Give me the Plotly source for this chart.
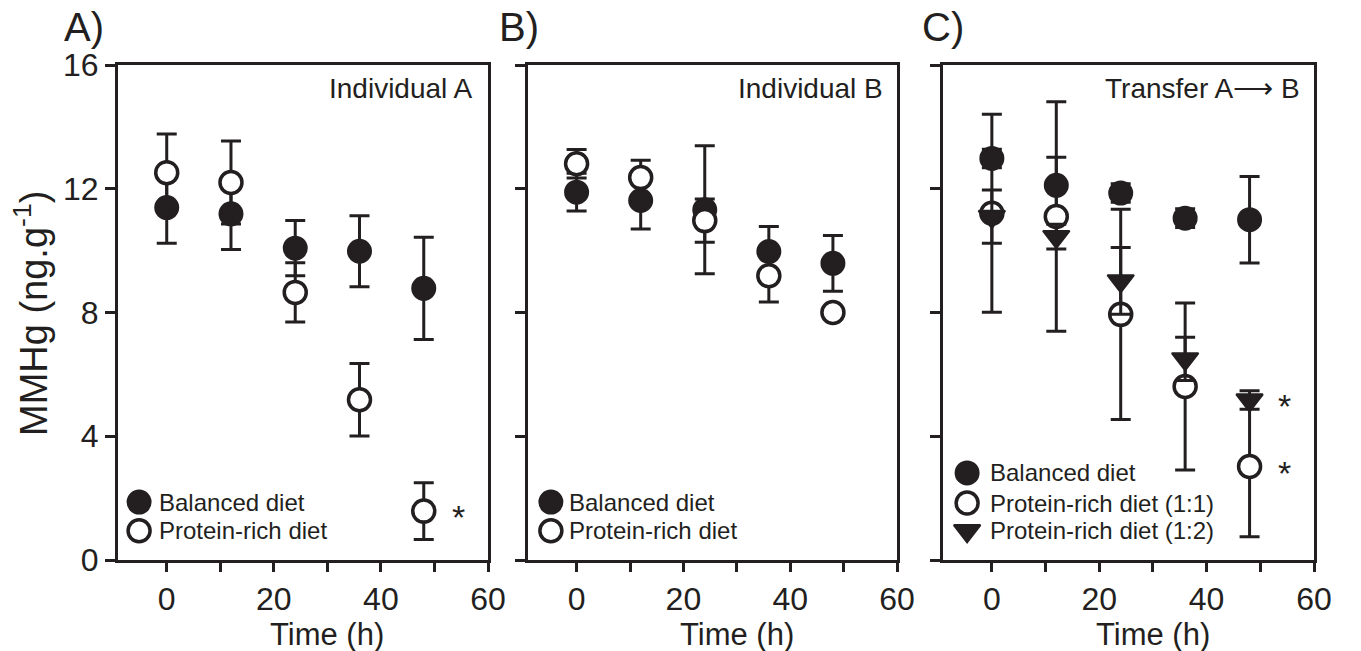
import plotly.graph_objects as go

# ---- data -------------------------------------------------------------
time_h = [0, 12, 24, 36, 48]

# A) Individual A
a_balanced = [11.39, 11.19, 10.08, 9.98, 8.78]
a_balanced_sd = [1.15, 1.15, 0.89, 1.15, 1.65]
a_protein = [12.52, 12.20, 8.65, 5.18, 1.58]
a_protein_sd = [1.25, 1.34, 0.96, 1.17, 0.92]

# B) Individual B
b_balanced = [11.89, 11.62, 11.32, 9.97, 9.59]
b_balanced_sd = [0.61, 0.92, 2.07, 0.81, 0.90]
b_protein = [12.81, 12.36, 10.97, 9.19, 8.00]
b_protein_sd = [0.46, 0.56, 0.70, 0.85, 0.12]

# C) Transfer A -> B
c_balanced = [12.98, 12.11, 11.86, 11.05, 11.00]
c_balanced_sd = [0.30, 0.91, 0.30, 0.30, 1.40]
c_protein_11 = [11.21, 11.10, 7.94, 5.61, 3.02]
c_protein_11_sd = [3.20, 3.71, 3.40, 2.70, 2.27]
c_protein_12 = [11.10, 10.45, 9.02, 6.50, 5.17]
c_protein_12_sd = [0.86, 0.40, 1.08, 0.70, 0.30]

x_tick_vals = [0, 20, 40, 60]
x_tick_text = ["0", "20", "40", "60"]
x_minor_vals = [10, 30, 50]
y_tick_vals = [0, 4, 8, 12, 16]
y_tick_text = ["0", "4", "8", "12", "16"]

panel_letters = ["A)", "B)", "C)"]
panel_titles = ["Individual A", "Individual B", "Transfer A\u27f6 B"]
legend_a = ["Balanced diet", "Protein-rich diet"]
legend_b = ["Balanced diet", "Protein-rich diet"]
legend_c = ["Balanced diet", "Protein-rich diet (1:1)", "Protein-rich diet (1:2)"]
x_title = "Time (h)"
y_title = "MMHg (ng.g<sup>-1</sup>)"

# ---- style ------------------------------------------------------------
INK = "#231f20"
FONT = "Liberation Sans, Arial, sans-serif"
X_RANGE = [-9.1, 60]
Y_RANGE = [0, 16]
MSIZE = 22

FILLED = dict(symbol="circle", size=MSIZE, color=INK, line=dict(color=INK, width=3))
OPEN = dict(symbol="circle", size=MSIZE, color="white", line=dict(color=INK, width=3.5))
TRI = dict(symbol="triangle-down", size=MSIZE + 1, color=INK, line=dict(color=INK, width=2))


def err(sd):
    return dict(type="data", array=sd, visible=True, color=INK, thickness=3, width=10)


def frac_x(f):
    return X_RANGE[0] + f * (X_RANGE[1] - X_RANGE[0])


def frac_y(f):
    return Y_RANGE[0] + f * (Y_RANGE[1] - Y_RANGE[0])


fig = go.Figure()

panels = [
    ("x", "y", [(a_balanced, a_balanced_sd, FILLED, legend_a[0]),
                (a_protein, a_protein_sd, OPEN, legend_a[1])]),
    ("x2", "y2", [(b_balanced, b_balanced_sd, FILLED, legend_b[0]),
                  (b_protein, b_protein_sd, OPEN, legend_b[1])]),
    ("x3", "y3", [(c_balanced, c_balanced_sd, FILLED, legend_c[0]),
                  (c_protein_11, c_protein_11_sd, OPEN, legend_c[1]),
                  (c_protein_12, c_protein_12_sd, TRI, legend_c[2])]),
]

for xa, ya, series in panels:
    for vals, sd, mk, name in series:
        fig.add_trace(go.Scatter(
            x=time_h, y=vals, mode="markers", name=name, marker=mk,
            error_y=err(sd), xaxis=xa, yaxis=ya, showlegend=False,
            cliponaxis=False,
        ))

annotations = []

# in-panel keys
key_layout = {
    "x": dict(kx=0.057, tx=0.105, rows=[0.117, 0.059]),
    "x2": dict(kx=0.062, tx=0.106, rows=[0.117, 0.059]),
    "x3": dict(kx=0.065, tx=0.121, rows=[0.176, 0.115, 0.059]),
}
for xa, ya, series in panels:
    kl = key_layout[xa]
    for (vals, sd, mk, name), ry in zip(series, kl["rows"]):
        fig.add_trace(go.Scatter(
            x=[frac_x(kl["kx"])], y=[frac_y(ry)], mode="markers", marker=mk,
            xaxis=xa, yaxis=ya, showlegend=False, hoverinfo="skip",
        ))
        annotations.append(dict(
            x=frac_x(kl["tx"]), y=frac_y(ry), xref=xa, yref=ya, text=name,
            showarrow=False, xanchor="left", yanchor="middle",
            font=dict(family=FONT, size=24, color=INK),
        ))

# significance marks
for xa, ya, vals in [("x", "y", a_protein), ("x3", "y3", c_protein_12), ("x3", "y3", c_protein_11)]:
    annotations.append(dict(
        x=54.5, y=vals[-1], xref=xa, yref=ya, text="*", showarrow=False,
        xanchor="center", yanchor="middle", yshift=-6,
        font=dict(family=FONT, size=34, color=INK),
    ))

domains = [(118 / 1361, 488 / 1361), (528 / 1361, 897 / 1361), (943 / 1361, 1314 / 1361)]
letter_x = [62 / 1361, 497 / 1361, 920 / 1361]
title_fx = [0.965, 0.967, 0.968]
axis_ids = [("x", "y"), ("x2", "y2"), ("x3", "y3")]

for i, (xa, ya) in enumerate(axis_ids):
    annotations.append(dict(
        x=title_fx[i], y=0.952, xref=f"{xa} domain", yref=f"{ya} domain",
        text=panel_titles[i], showarrow=False, xanchor="right", yanchor="middle",
        font=dict(family=FONT, size=28, color=INK),
    ))
    annotations.append(dict(
        x=letter_x[i], y=1 - 27 / 651, xref="paper", yref="paper",
        text=panel_letters[i], showarrow=False, xanchor="left", yanchor="middle",
        font=dict(family=FONT, size=40, color=INK),
    ))
    annotations.append(dict(
        x=30, y=1 - 634 / 651, xref=xa, yref="paper", text=x_title,
        showarrow=False, xanchor="center", yanchor="middle",
        font=dict(family=FONT, size=31, color=INK),
    ))

annotations.append(dict(
    x=31 / 1361, y=1 - 314 / 651, xref="paper", yref="paper", text=y_title,
    textangle=-90, showarrow=False, xanchor="center", yanchor="middle",
    font=dict(family=FONT, size=38, color=INK),
))

layout = dict(
    width=1361, height=651,
    margin=dict(l=0, r=0, t=0, b=0, pad=0, autoexpand=False),
    paper_bgcolor="white", plot_bgcolor="white",
    font=dict(family=FONT, color=INK),
    annotations=annotations,
    showlegend=False,
)

y_dom = [1 - 560 / 651, 1 - 65 / 651]
for i, (xa, ya) in enumerate(axis_ids):
    xkey = "xaxis" if i == 0 else f"xaxis{i + 1}"
    ykey = "yaxis" if i == 0 else f"yaxis{i + 1}"
    layout[xkey] = dict(
        domain=domains[i], anchor=ya, range=X_RANGE, automargin=False,
        tickmode="array", tickvals=x_tick_vals, ticktext=x_tick_text,
        ticks="outside", ticklen=9, tickwidth=3, tickcolor=INK,
        minor=dict(tickmode="array", tickvals=x_minor_vals, ticks="outside",
                   ticklen=9, tickwidth=3, tickcolor=INK, showgrid=False),
        showline=True, linewidth=3, linecolor=INK, mirror=True,
        showgrid=False, zeroline=False,
        tickfont=dict(family=FONT, size=32, color=INK),
    )
    layout[ykey] = dict(
        domain=y_dom, anchor=xa, range=Y_RANGE, automargin=False,
        tickmode="array", tickvals=y_tick_vals, ticktext=y_tick_text,
        showticklabels=(i == 0),
        ticks="outside", ticklen=10, tickwidth=3, tickcolor=INK,
        showline=True, linewidth=3, linecolor=INK, mirror=True,
        showgrid=False, zeroline=False,
        tickfont=dict(family=FONT, size=32, color=INK),
    )

fig.update_layout(**layout)
fig.write_html("out.html")
